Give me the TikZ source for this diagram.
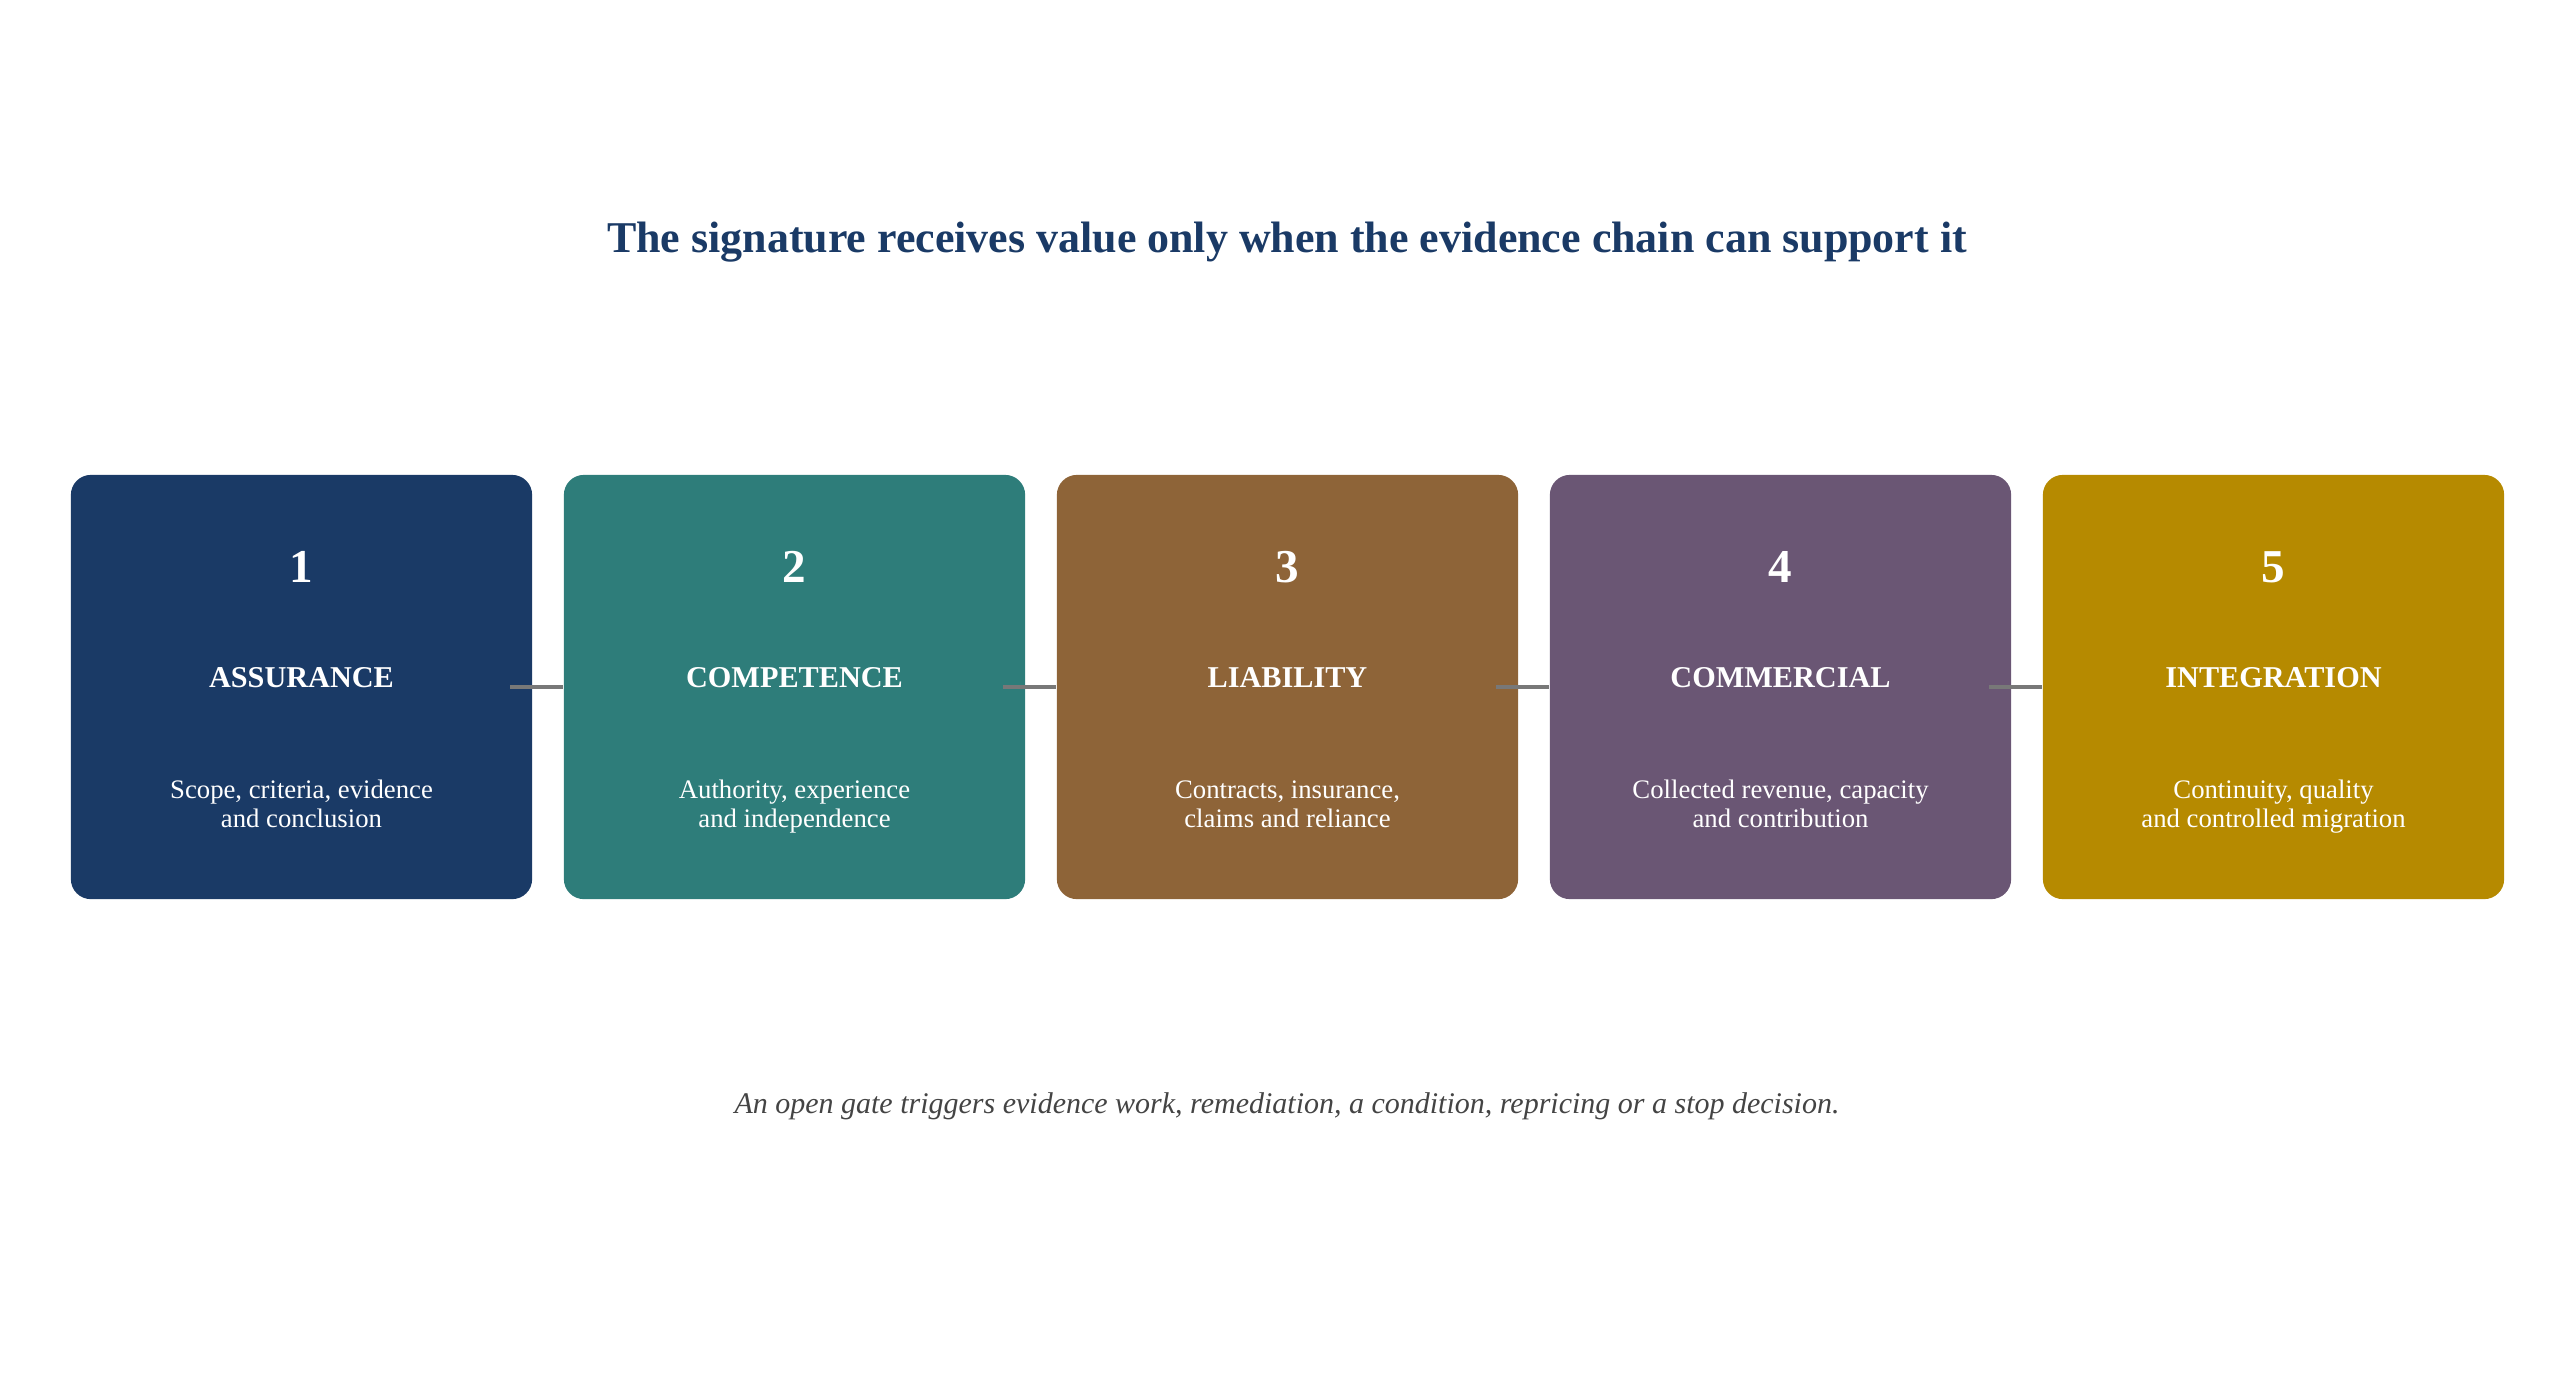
\documentclass[tikz,border=0pt]{standalone}
\usepackage{fontspec}
\setmainfont{Liberation Serif}
\definecolor{navy}{HTML}{1A3A66}
\definecolor{teal2}{HTML}{2E7D7A}
\definecolor{brown2}{HTML}{8E6438}
\definecolor{purple2}{HTML}{6A5674}
\definecolor{gold2}{HTML}{B68A00}
\definecolor{conn}{HTML}{787878}
\definecolor{foot}{HTML}{444444}
\begin{document}
\begin{tikzpicture}[x=0.01cm,y=-0.01cm,
  card/.style={rectangle,rounded corners=0.2cm,minimum width=4.61cm,minimum height=4.24cm,inner sep=0pt,draw=none},
  num/.style={anchor=base,text=white,font=\fontsize{13.4pt}{16pt}\selectfont\bfseries,inner sep=0pt},
  head/.style={anchor=base,text=white,font=\fontsize{8.6pt}{10pt}\selectfont\bfseries,inner sep=0pt},
  desc/.style={anchor=base,text=white,align=center,font=\fontsize{7.6pt}{8pt}\selectfont,inner sep=0pt},
  link/.style={draw=conn,line width=1pt}]
\useasboundingbox (0,0) rectangle (2575,1375);
\node[anchor=base,text=navy,font=\fontsize{12.5pt}{15pt}\selectfont\bfseries,inner sep=0pt] (title) at (1287,252) {The signature receives value only when the evidence chain can support it};
\foreach \i/\col/\hd/\da/\db in {1/navy/ASSURANCE/{Scope, criteria, evidence}/{and conclusion},
  2/teal2/COMPETENCE/{Authority, experience}/{and independence},
  3/brown2/LIABILITY/{Contracts, insurance,}/{claims and reliance},
  4/purple2/COMMERCIAL/{Collected revenue, capacity}/{and contribution},
  5/gold2/INTEGRATION/{Continuity, quality}/{and controlled migration}}{
  \pgfmathsetmacro{\cx}{71+230.5+(\i-1)*493}
  \node[card,fill=\col] (b\i) at (\cx,687) {};
  \node[num] (n\i) at (\cx,582) {\i};
  \node[head] (h\i) at (\cx,687) {\hd};
  \node[desc] (d\i) at (\cx,827) {\da\\\db};
}
\foreach \i [evaluate=\i as \j using int(\i+1)] in {1,2,3,4}{
  \coordinate (s\i) at ([xshift=-0.23cm]b\i.east);
  \draw[link] (s\i) -- (b\j.west);
}
\node[anchor=base,text=foot,font=\fontsize{8.53pt}{10pt}\selectfont\itshape,inner sep=0pt] (footer) at (1287,1113) {An open gate triggers evidence work, remediation, a condition, repricing or a stop decision.};
\end{tikzpicture}
\end{document}
